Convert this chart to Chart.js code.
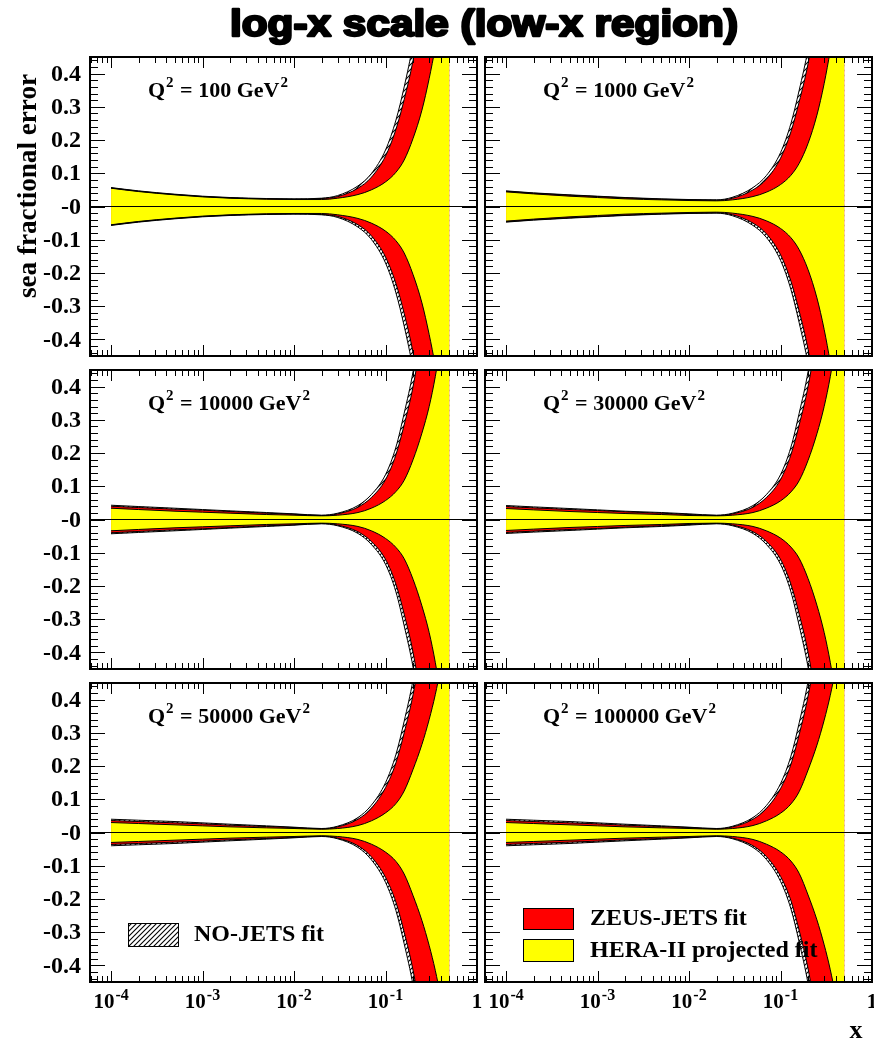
<!DOCTYPE html>
<html><head><meta charset="utf-8">
<script src="https://cdn.jsdelivr.net/npm/chart.js@4.4.1/dist/chart.umd.min.js"></script>
<style>
html,body{margin:0;padding:0;background:#fff;}
body{width:874px;height:1042px;position:relative;overflow:hidden;}
canvas{position:absolute;left:0;top:0;}
</style></head><body>
<canvas id="c0" width="874" height="1042"></canvas>
<canvas id="c1" width="874" height="1042"></canvas>
<canvas id="c2" width="874" height="1042"></canvas>
<canvas id="c3" width="874" height="1042"></canvas>
<canvas id="c4" width="874" height="1042"></canvas>
<canvas id="c5" width="874" height="1042"></canvas>
<script>
// ---------------- DATA ----------------
const xValues = [1e-4, 2e-4, 5e-4, 1e-3, 2e-3, 5e-3, 0.01, 0.02, 0.03, 0.05, 0.07, 0.1, 0.13, 0.16, 0.2, 0.25, 0.3, 0.35, 0.4, 0.45, 0.5];
const q2Labels = ['100', '1000', '10000', '30000', '50000', '100000'];

// HERA-II projected fit (yellow) half-widths
const yellowQ100    = [0.055,0.045,0.035,0.029,0.025,0.022,0.021,0.021,0.025,0.036,0.050,0.074,0.103,0.140,0.205,0.290,0.385,0.480,0.580,0.690,0.80];
const yellowQ1000   = [0.044,0.038,0.031,0.027,0.023,0.020,0.018,0.017,0.020,0.030,0.043,0.066,0.094,0.130,0.190,0.275,0.370,0.470,0.570,0.680,0.80];
const yellowQ10000  = [0.034,0.030,0.025,0.022,0.019,0.015,0.013,0.011,0.013,0.021,0.034,0.057,0.084,0.118,0.180,0.260,0.340,0.430,0.530,0.640,0.75];
const yellowQ30000  = [0.033,0.029,0.024,0.021,0.018,0.015,0.012,0.011,0.013,0.021,0.034,0.056,0.083,0.117,0.178,0.258,0.340,0.430,0.530,0.640,0.75];
const yellowQ50000  = [0.030,0.027,0.023,0.020,0.017,0.014,0.012,0.010,0.012,0.021,0.035,0.059,0.087,0.125,0.190,0.265,0.340,0.415,0.495,0.580,0.70];
const yellowQ100000 = [0.030,0.027,0.023,0.020,0.017,0.014,0.012,0.010,0.012,0.021,0.035,0.058,0.086,0.123,0.188,0.263,0.338,0.413,0.493,0.580,0.70];

// ZEUS-JETS fit (red) half-widths
const redQ100    = [0.056,0.046,0.036,0.030,0.026,0.023,0.022,0.024,0.030,0.055,0.088,0.152,0.232,0.322,0.440,0.600,0.760,0.920,1.080,1.240,1.40];
const redQ1000   = [0.046,0.040,0.034,0.030,0.026,0.022,0.020,0.019,0.025,0.050,0.082,0.145,0.225,0.315,0.430,0.590,0.750,0.910,1.070,1.230,1.40];
const redQ10000  = [0.040,0.036,0.031,0.028,0.024,0.019,0.016,0.012,0.017,0.037,0.066,0.120,0.195,0.285,0.400,0.560,0.720,0.880,1.040,1.200,1.35];
const redQ30000  = [0.039,0.035,0.030,0.027,0.023,0.019,0.015,0.012,0.017,0.037,0.066,0.120,0.195,0.285,0.400,0.560,0.720,0.880,1.040,1.200,1.35];
const redQ50000  = [0.036,0.033,0.029,0.026,0.022,0.018,0.015,0.011,0.017,0.040,0.073,0.135,0.210,0.300,0.415,0.570,0.730,0.890,1.050,1.200,1.35];
const redQ100000 = [0.036,0.033,0.029,0.026,0.022,0.018,0.015,0.011,0.017,0.040,0.072,0.132,0.205,0.295,0.410,0.565,0.720,0.880,1.040,1.200,1.35];

// NO-JETS fit (hatched) half-widths
const hatchQ100    = [0.057,0.047,0.037,0.031,0.027,0.024,0.023,0.025,0.033,0.062,0.099,0.170,0.260,0.360,0.490,0.660,0.830,1.000,1.150,1.300,1.45];
const hatchQ1000   = [0.047,0.041,0.035,0.031,0.027,0.023,0.021,0.020,0.028,0.057,0.093,0.162,0.250,0.350,0.475,0.650,0.820,0.990,1.150,1.300,1.45];
const hatchQ10000  = [0.043,0.039,0.034,0.030,0.026,0.021,0.017,0.013,0.019,0.042,0.075,0.135,0.218,0.320,0.445,0.620,0.790,0.960,1.120,1.280,1.45];
const hatchQ30000  = [0.042,0.038,0.033,0.029,0.025,0.021,0.017,0.013,0.019,0.042,0.075,0.135,0.218,0.320,0.445,0.620,0.790,0.960,1.120,1.280,1.45];
const hatchQ50000  = [0.040,0.037,0.033,0.029,0.025,0.020,0.016,0.012,0.019,0.045,0.082,0.150,0.235,0.335,0.460,0.630,0.800,0.970,1.130,1.290,1.45];
const hatchQ100000 = [0.040,0.037,0.033,0.029,0.025,0.020,0.016,0.012,0.019,0.045,0.081,0.147,0.230,0.330,0.455,0.625,0.790,0.960,1.120,1.280,1.45];

const yTickValues = [0.4, 0.3, 0.2, 0.1, 0, -0.1, -0.2, -0.3, -0.4];
const yTickLabels = ['0.4', '0.3', '0.2', '0.1', '-0', '-0.1', '-0.2', '-0.3', '-0.4'];
const xTickValues = [1e-4, 1e-3, 1e-2, 1e-1, 1];
const xTickBase   = ['10', '10', '10', '10', '1'];
const xTickExp    = ['-4', '-3', '-2', '-1', ''];

const titleText = 'log-x scale (low-x region)';
const yAxisTitle = 'sea fractional error';
const xAxisTitle = 'x';
const legendNoJets = 'NO-JETS fit';
const legendZeus = 'ZEUS-JETS fit';
const legendHera = 'HERA-II projected fit';

// ---------------- LAYOUT ----------------
const XMIN = Math.pow(10, -4.23), XMAX = 1, YMIN = -0.45, YMAX = 0.45;
const panelBoxes = [
  {L: 90,  T: 57,  R: 477, B: 356},
  {L: 485, T: 57,  R: 872, B: 356},
  {L: 90,  T: 370, R: 477, B: 669},
  {L: 485, T: 370, R: 872, B: 669},
  {L: 90,  T: 683, R: 477, B: 982},
  {L: 485, T: 683, R: 872, B: 982}
];
const yellowSets = [yellowQ100, yellowQ1000, yellowQ10000, yellowQ30000, yellowQ50000, yellowQ100000];
const redSets = [redQ100, redQ1000, redQ10000, redQ30000, redQ50000, redQ100000];
const hatchSets = [hatchQ100, hatchQ1000, hatchQ10000, hatchQ30000, hatchQ50000, hatchQ100000];

const SERIF = '"Liberation Serif", "Times New Roman", serif';

function makeHatch(ctx) {
  const s = 5;
  const c = document.createElement('canvas');
  c.width = s; c.height = s;
  const g = c.getContext('2d');
  g.fillStyle = '#fff'; g.fillRect(0, 0, s, s);
  g.strokeStyle = '#000'; g.lineWidth = 1.1;
  g.beginPath();
  g.moveTo(-1, s + 1); g.lineTo(s + 1, -1);
  g.moveTo(-1, 1); g.lineTo(1, -1);
  g.moveTo(s - 1, s + 1); g.lineTo(s + 1, s - 1);
  g.stroke();
  return ctx.createPattern(c, 'repeat');
}

function pts(arr, sign) {
  return xValues.map((x, i) => ({x: x, y: sign * arr[i]}));
}

function drawSupText(ctx, parts, x, y) {
  let cx = x;
  for (const [t, sup] of parts) {
    if (sup) {
      ctx.font = 'bold 15px ' + SERIF;
      ctx.fillText(t, cx + 1, y - 10);
      cx += ctx.measureText(t).width + 2;
    } else {
      ctx.font = 'bold 22px ' + SERIF;
      ctx.fillText(t, cx, y);
      cx += ctx.measureText(t).width;
    }
  }
}

const rootFrame = {
  id: 'rootFrame',
  afterDraw(chart, args, opts) {
    const ctx = chart.ctx;
    const a = chart.chartArea;
    const xs = chart.scales.x, ys = chart.scales.y;
    ctx.save();
    ctx.strokeStyle = '#000';
    ctx.fillStyle = '#000';
    // ticks
    ctx.lineWidth = 1;
    ctx.beginPath();
    for (let k = -22; k <= 22; k++) {
      const py = Math.round(ys.getPixelForValue(k * 0.02)) + 0.5;
      const len = (k % 5 === 0) ? 15 : 8;
      ctx.moveTo(a.left, py); ctx.lineTo(a.left + len, py);
      ctx.moveTo(a.right, py); ctx.lineTo(a.right - len, py);
    }
    for (let e = -5; e <= 0; e++) {
      for (let m = 1; m <= 9; m++) {
        const v = m * Math.pow(10, e);
        if (v < XMIN * 0.999 || v > XMAX * 1.001) continue;
        const px = Math.round(xs.getPixelForValue(v)) + 0.5;
        const len = (m === 1) ? 11 : 6;
        ctx.moveTo(px, a.bottom); ctx.lineTo(px, a.bottom - len);
        ctx.moveTo(px, a.top); ctx.lineTo(px, a.top + len);
      }
    }
    ctx.stroke();
    // frame
    ctx.lineWidth = 2;
    ctx.strokeRect(a.left, a.top, a.right - a.left, a.bottom - a.top);

    // y tick labels
    if (opts.yLabels) {
      ctx.font = 'bold 24px ' + SERIF;
      ctx.textAlign = 'right';
      ctx.textBaseline = 'middle';
      yTickValues.forEach((v, i) => {
        ctx.fillText(yTickLabels[i], a.left - 9, ys.getPixelForValue(v) + 1);
      });
    }
    // x tick labels
    if (opts.xLabels) {
      ctx.textBaseline = 'alphabetic';
      ctx.textAlign = 'left';
      xTickValues.forEach((v, i) => {
        const px = xs.getPixelForValue(v);
        ctx.font = 'bold 21px ' + SERIF;
        const wb = ctx.measureText(xTickBase[i]).width;
        ctx.font = 'bold 16px ' + SERIF;
        const we = xTickExp[i] ? ctx.measureText(xTickExp[i]).width + 1 : 0;
        const x0 = px - (wb + we) / 2;
        ctx.font = 'bold 21px ' + SERIF;
        ctx.fillText(xTickBase[i], x0, 1008);
        if (xTickExp[i]) {
          ctx.font = 'bold 16px ' + SERIF;
          ctx.fillText(xTickExp[i], x0 + wb + 1, 1000);
        }
      });
    }
    // Q2 label
    ctx.textAlign = 'left';
    ctx.textBaseline = 'alphabetic';
    drawSupText(ctx, [['Q', false], ['2', true], [' = ' + opts.q + ' GeV', false], ['2', true]], a.left + 58, a.top + 40);

    // legends
    if (opts.legendLeft) {
      ctx.fillStyle = makeHatch(ctx);
      ctx.fillRect(128, 923, 50, 23);
      ctx.lineWidth = 1;
      ctx.strokeRect(128.5, 923.5, 50, 23);
      ctx.fillStyle = '#000';
      ctx.font = 'bold 24px ' + SERIF;
      ctx.textBaseline = 'middle';
      ctx.fillText(legendNoJets, 194, 935);
    }
    if (opts.legendRight) {
      ctx.lineWidth = 1;
      ctx.fillStyle = '#ff0000';
      ctx.fillRect(523, 908, 50, 21);
      ctx.strokeRect(523.5, 908.5, 50, 21);
      ctx.fillStyle = '#ffff00';
      ctx.fillRect(523, 939, 50, 22);
      ctx.strokeRect(523.5, 939.5, 50, 22);
      ctx.fillStyle = '#000';
      ctx.font = 'bold 24px ' + SERIF;
      ctx.textBaseline = 'middle';
      ctx.fillText(legendZeus, 590, 919);
      ctx.fillText(legendHera, 590, 951);
    }
    // global texts
    if (opts.globalText) {
      ctx.textAlign = 'center';
      ctx.textBaseline = 'alphabetic';
      ctx.font = 'bold 37px "Liberation Sans", Arial, sans-serif';
      const w = ctx.measureText(titleText).width;
      ctx.save();
      ctx.translate(484, 36);
      ctx.scale(508 / w, 1);
      ctx.lineWidth = 2.4;
      ctx.lineJoin = 'round';
      ctx.strokeText(titleText, 0, 0);
      ctx.fillText(titleText, 0, 0);
      ctx.restore();
      // y axis title
      ctx.save();
      ctx.translate(36, 186);
      ctx.rotate(-Math.PI / 2);
      ctx.font = 'bold 28px ' + SERIF;
      const wy = ctx.measureText(yAxisTitle).width;
      ctx.scale(224 / wy, 1);
      ctx.textAlign = 'center';
      ctx.textBaseline = 'alphabetic';
      ctx.fillText(yAxisTitle, 0, 0);
      ctx.restore();
      // x axis title
      ctx.font = 'bold 26px ' + SERIF;
      ctx.textAlign = 'center';
      ctx.fillText(xAxisTitle, 856, 1038);
    }
    ctx.restore();
  }
};

panelBoxes.forEach((box, i) => {
  const canvas = document.getElementById('c' + i);
  const ctx = canvas.getContext('2d');
  const hatch = makeHatch(ctx);
  const line = {borderColor: '#000', borderWidth: 1, pointRadius: 0, cubicInterpolationMode: 'monotone'};
  new Chart(canvas, {
    type: 'line',
    data: {
      datasets: [
        Object.assign({label: 'HERA-II projected fit', data: pts(yellowSets[i], 1), fill: '+1', backgroundColor: '#ffff00'}, line),
        Object.assign({label: 'HERA-II lower', data: pts(yellowSets[i], -1), fill: false}, line),
        Object.assign({label: 'ZEUS-JETS fit', data: pts(redSets[i], 1), fill: '+1', backgroundColor: '#ff0000'}, line),
        Object.assign({label: 'ZEUS-JETS lower', data: pts(redSets[i], -1), fill: false}, line),
        Object.assign({label: 'NO-JETS fit', data: pts(hatchSets[i], 1), fill: '+1', backgroundColor: hatch}, line),
        Object.assign({label: 'NO-JETS lower', data: pts(hatchSets[i], -1), fill: false}, line),
        {label: 'zero', data: [{x: XMIN, y: 0}, {x: XMAX, y: 0}], borderColor: '#000', borderWidth: 1, pointRadius: 0, fill: false}
      ]
    },
    options: {
      responsive: false,
      animation: false,
      devicePixelRatio: 1,
      events: [],
      layout: {padding: {left: box.L, top: box.T, right: 874 - box.R, bottom: 1042 - box.B}},
      scales: {
        x: {type: 'logarithmic', min: XMIN, max: XMAX, display: false},
        y: {type: 'linear', min: YMIN, max: YMAX, display: false}
      },
      plugins: {
        legend: {display: false},
        tooltip: {enabled: false},
        filler: {drawTime: 'beforeDatasetsDraw', propagate: false},
        rootFrame: {
          q: q2Labels[i],
          yLabels: (i % 2 === 0),
          xLabels: (i >= 4),
          legendLeft: (i === 4),
          legendRight: (i === 5),
          globalText: (i === 0)
        }
      }
    },
    plugins: [rootFrame]
  });
});
</script>
</body></html>
